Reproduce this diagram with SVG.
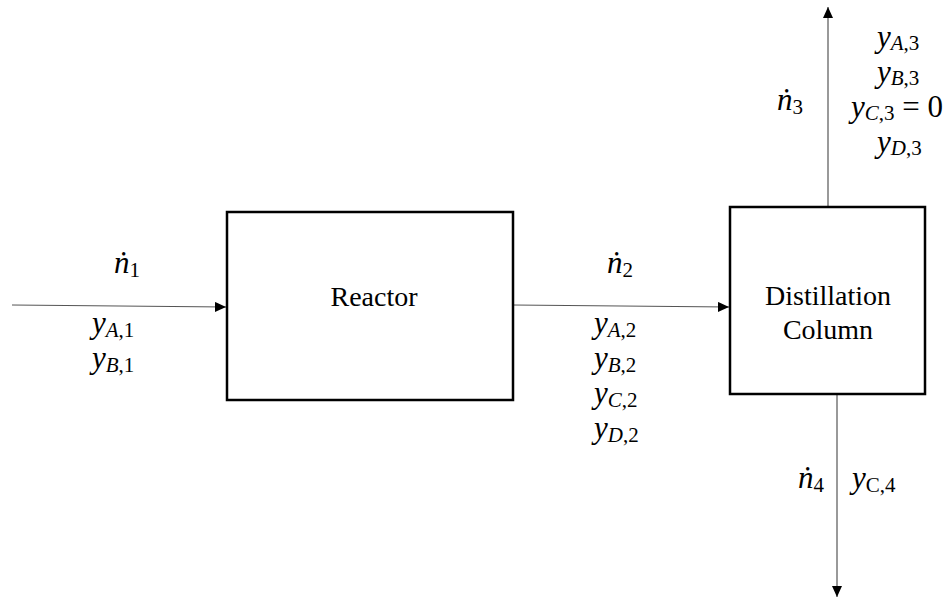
<svg xmlns="http://www.w3.org/2000/svg" width="951" height="598" viewBox="0 0 951 598">
<defs>
<marker id="ah" markerUnits="userSpaceOnUse" markerWidth="12" markerHeight="10" refX="11" refY="5" orient="auto">
<path d="M0,0 L11,5 L0,10 Z" fill="#000"/>
</marker>
</defs>
<g id="connectors" stroke="#555" stroke-width="1.2" fill="none">
<line x1="12" y1="305" x2="226" y2="307" marker-end="url(#ah)"/>
<line x1="513" y1="305" x2="729" y2="307" marker-end="url(#ah)"/>
<line x1="828" y1="207" x2="828" y2="7" marker-end="url(#ah)"/>
<line x1="837" y1="394" x2="837" y2="597" marker-end="url(#ah)"/>
</g>
<g id="reactor">
<rect x="227" y="212" width="286" height="188" fill="#fff" stroke="#000" stroke-width="2.5"/>
<text x="374" y="306" font-family="Liberation Serif" font-size="28" text-anchor="middle">Reactor</text>
</g>
<g id="distillation">
<rect x="730" y="207" width="195" height="187" fill="#fff" stroke="#000" stroke-width="2.5"/>
<text x="828" y="305" font-family="Liberation Serif" font-size="28" text-anchor="middle">Distillation</text>
<text x="828" y="339" font-family="Liberation Serif" font-size="28" text-anchor="middle">Column</text>
</g>
<g id="labels">
<text x="114" y="273" font-family="Liberation Serif" font-size="31"><tspan font-style="italic">ṅ</tspan><tspan font-size="21" dy="4">1</tspan></text>
<text x="92" y="333" font-family="Liberation Serif" font-size="31"><tspan font-style="italic">y</tspan><tspan font-size="21" font-style="italic" dy="4">A</tspan><tspan font-size="21">,1</tspan></text>
<text x="92" y="368" font-family="Liberation Serif" font-size="31"><tspan font-style="italic">y</tspan><tspan font-size="21" font-style="italic" dy="4">B</tspan><tspan font-size="21">,1</tspan></text>
<text x="607" y="273" font-family="Liberation Serif" font-size="31"><tspan font-style="italic">ṅ</tspan><tspan font-size="21" dy="4">2</tspan></text>
<text x="594" y="333" font-family="Liberation Serif" font-size="31"><tspan font-style="italic">y</tspan><tspan font-size="21" font-style="italic" dy="4">A</tspan><tspan font-size="21">,2</tspan></text>
<text x="594" y="368" font-family="Liberation Serif" font-size="31"><tspan font-style="italic">y</tspan><tspan font-size="21" font-style="italic" dy="4">B</tspan><tspan font-size="21">,2</tspan></text>
<text x="594" y="403" font-family="Liberation Serif" font-size="31"><tspan font-style="italic">y</tspan><tspan font-size="21" font-style="italic" dy="4">C</tspan><tspan font-size="21">,2</tspan></text>
<text x="594" y="438" font-family="Liberation Serif" font-size="31"><tspan font-style="italic">y</tspan><tspan font-size="21" font-style="italic" dy="4">D</tspan><tspan font-size="21">,2</tspan></text>
<text x="777" y="110" font-family="Liberation Serif" font-size="31"><tspan font-style="italic">ṅ</tspan><tspan font-size="21" dy="4">3</tspan></text>
<text x="877" y="47" font-family="Liberation Serif" font-size="31"><tspan font-style="italic">y</tspan><tspan font-size="21" font-style="italic" dy="3">A</tspan><tspan font-size="21">,3</tspan></text>
<text x="877" y="82" font-family="Liberation Serif" font-size="31"><tspan font-style="italic">y</tspan><tspan font-size="21" font-style="italic" dy="3">B</tspan><tspan font-size="21">,3</tspan></text>
<text x="851" y="117" font-family="Liberation Serif" font-size="31"><tspan font-style="italic">y</tspan><tspan font-size="21" font-style="italic" dy="3">C</tspan><tspan font-size="21">,3</tspan><tspan dy="-3"> = 0</tspan></text>
<text x="877" y="152" font-family="Liberation Serif" font-size="31"><tspan font-style="italic">y</tspan><tspan font-size="21" font-style="italic" dy="3">D</tspan><tspan font-size="21">,3</tspan></text>
<text x="798" y="488" font-family="Liberation Serif" font-size="31"><tspan font-style="italic">ṅ</tspan><tspan font-size="21" dy="4">4</tspan></text>
<text x="852" y="488" font-family="Liberation Serif" font-size="31"><tspan font-style="italic">y</tspan><tspan font-size="21" dy="4">C,4</tspan></text>
</g>
</svg>
